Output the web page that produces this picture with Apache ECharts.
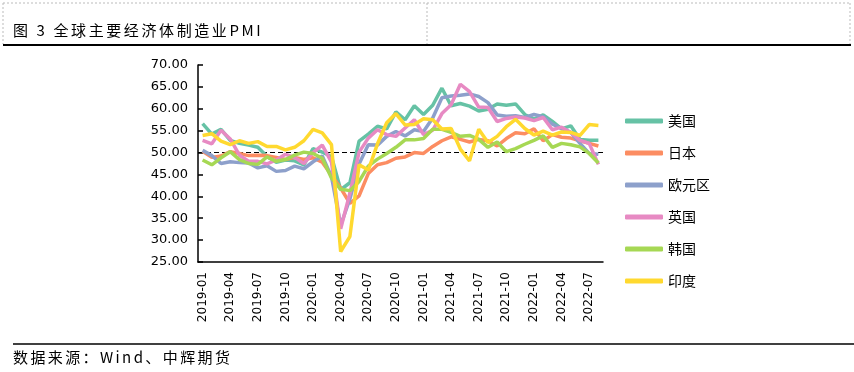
<!DOCTYPE html>
<html><head><meta charset="utf-8">
<script src="https://cdn.jsdelivr.net/npm/echarts@6/dist/echarts.min.js"></script>
<style>html,body{margin:0;padding:0;background:#fff;}#c{width:854px;height:372px;}</style>
</head><body><div id="c"></div>
<script>
var months = [];
(function(){for(var y=2019;y<=2022;y++){for(var m=1;m<=12;m++){if(y===2022&&m>8)break;months.push(y+'-'+(m<10?'0'+m:m));}}})();
var seriesNames = ['美国','日本','欧元区','英国','韩国','印度'];
var usa = [56.6,54.2,55.3,52.8,52.1,51.7,51.2,49.1,47.8,48.3,48.1,47.2, 50.9,50.1,49.1,41.5,43.1,52.6,54.2,56.0,55.4,59.3,57.5,60.7, 58.7,60.8,64.7,60.7,61.2,60.6,59.5,59.9,61.1,60.8,61.1,58.7, 57.6,58.6,57.1,55.4,56.1,53.0,52.8,52.8];
var japan = [50.3,48.9,49.2,50.2,49.8,49.3,49.4,49.3,48.9,48.4,48.9,48.4, 48.8,47.8,44.8,41.9,38.4,40.1,45.2,47.2,47.7,48.7,49.0,50.0, 49.8,51.4,52.7,53.6,53.0,52.4,53.0,52.7,51.5,53.2,54.5,54.3, 55.4,52.7,54.1,53.5,53.3,52.7,52.1,51.5];
var euro = [50.5,49.3,47.5,47.9,47.7,47.6,46.5,47.0,45.7,45.9,46.9,46.3, 47.9,49.2,44.5,33.4,39.4,47.4,51.8,51.7,53.7,54.8,53.8,55.2, 54.8,57.9,62.5,62.9,63.1,63.4,62.8,61.4,58.6,58.3,58.4,58.0, 58.7,58.2,56.5,55.5,54.6,52.1,49.8,49.6];
var uk = [52.8,52.0,55.1,53.1,49.4,48.0,48.0,47.4,48.3,49.6,48.9,47.5, 50.0,51.7,47.8,32.6,40.7,50.1,53.3,55.2,54.1,53.7,55.6,57.5, 54.1,55.1,58.9,60.9,65.6,63.9,60.4,60.3,57.1,57.8,58.1,57.9, 57.3,58.0,55.2,55.8,54.6,52.8,52.1,47.3];
var korea = [48.3,47.2,48.8,50.2,48.4,47.5,47.3,49.0,48.0,48.4,49.4,50.1, 49.8,48.7,44.2,41.6,41.3,43.4,46.9,48.5,49.8,51.2,52.9,52.9, 53.2,55.3,55.3,54.6,53.7,53.9,53.0,51.2,52.4,50.2,50.9,51.9, 52.8,53.8,51.2,52.1,51.8,51.3,49.8,47.6];
var india = [53.9,54.3,52.6,51.8,52.7,52.1,52.5,51.4,51.4,50.6,51.2,52.7, 55.3,54.5,51.8,27.4,30.8,47.2,46.0,52.0,56.8,58.9,56.3,56.4, 57.7,57.5,55.4,55.5,50.8,48.1,55.3,52.3,53.7,55.9,57.6,55.5, 54.0,54.9,54.0,54.7,54.6,53.9,56.4,56.2];
var seriesData = [usa, japan, euro, uk, korea, india];
var colors = ['#66c2a5','#fc8d62','#8da0cb','#e78ac3','#a6d854','#ffd92f'];
var yMin = 25, yMax = 70, yStep = 5, refLine = 50;
var titleText = '图 3 全球主要经济体制造业PMI';
var sourceText = '数据来源：Wind、中辉期货';

function spacedText(str, x, y, size, spacing){
  var cv = document.createElement('canvas').getContext('2d');
  var font = size + 'px "Noto Sans CJK SC"';
  cv.font = font;
  var out = [], cx = x;
  for (var i=0;i<str.length;i++){
    var ch = str[i];
    out.push({type:'text',x:cx,y:y,style:{text:ch,font:font,fill:'#000',textVerticalAlign:'middle',verticalAlign:'middle'}});
    cx += cv.measureText(ch).width + spacing;
  }
  return out;
}

var chart = echarts.init(document.getElementById('c'));
var series = seriesNames.map(function(n,i){
  var s = {name:n,type:'line',data:seriesData[i],symbol:'none',smooth:false,
    lineStyle:{width:3.5,color:colors[i]},itemStyle:{color:colors[i]},z:2+i};
  if(i===0){
    s.markLine = {silent:true,symbol:['none','none'],label:{show:false},
      lineStyle:{color:'#000',type:[5,3],width:1.2},data:[{yAxis:refLine}],z:1};
  }
  return s;
});
var graphics = [
  {type:'line',shape:{x1:3,y1:3,x2:850,y2:3},style:{stroke:'#bbb',lineDash:[2,2],lineWidth:1}},
  {type:'line',shape:{x1:3,y1:3,x2:3,y2:44},style:{stroke:'#bbb',lineDash:[2,2],lineWidth:1}},
  {type:'line',shape:{x1:427,y1:3,x2:427,y2:44},style:{stroke:'#bbb',lineDash:[2,2],lineWidth:1}},
  {type:'line',shape:{x1:850,y1:3,x2:850,y2:44},style:{stroke:'#bbb',lineDash:[2,2],lineWidth:1}},
  {type:'line',shape:{x1:3,y1:45,x2:851,y2:45},style:{stroke:'#000',lineWidth:2}},
  {type:'line',shape:{x1:13,y1:344,x2:854,y2:344},style:{stroke:'#000',lineWidth:1.5}}
].concat(spacedText(titleText, 13, 30, 15, 2.6)).concat(spacedText(sourceText, 13, 357, 15, 2.4));

chart.setOption({
  animation:false,
  backgroundColor:'#fff',
  grid:{left:198,right:251,top:65,bottom:110,containLabel:false},
  legend:{orient:'vertical',left:620,top:109,itemWidth:38,itemHeight:5,itemGap:18,
    icon:'roundRect',textStyle:{fontSize:14,color:'#000',fontFamily:'Noto Sans CJK SC',lineHeight:14},
    data:seriesNames},
  xAxis:{type:'category',data:months,boundaryGap:true,
    axisLine:{lineStyle:{color:'#000',width:1.5}},
    axisTick:{inside:true,length:5,interval:2,lineStyle:{color:'#000',width:1.5}},
    axisLabel:{interval:2,rotate:90,margin:10,fontSize:12,color:'#000',fontFamily:'DejaVu Sans'},
    splitLine:{show:false}},
  yAxis:{type:'value',min:yMin,max:yMax,interval:yStep,
    axisLine:{show:true,lineStyle:{color:'#000',width:1.5}},
    axisTick:{show:true,inside:true,length:5,lineStyle:{color:'#000',width:1.5}},
    axisLabel:{margin:10,fontSize:13,color:'#000',fontFamily:'DejaVu Sans',formatter:function(v){return v.toFixed(2);}},
    splitLine:{show:false}},
  series:series,
  graphic:graphics
});
</script></body></html>
